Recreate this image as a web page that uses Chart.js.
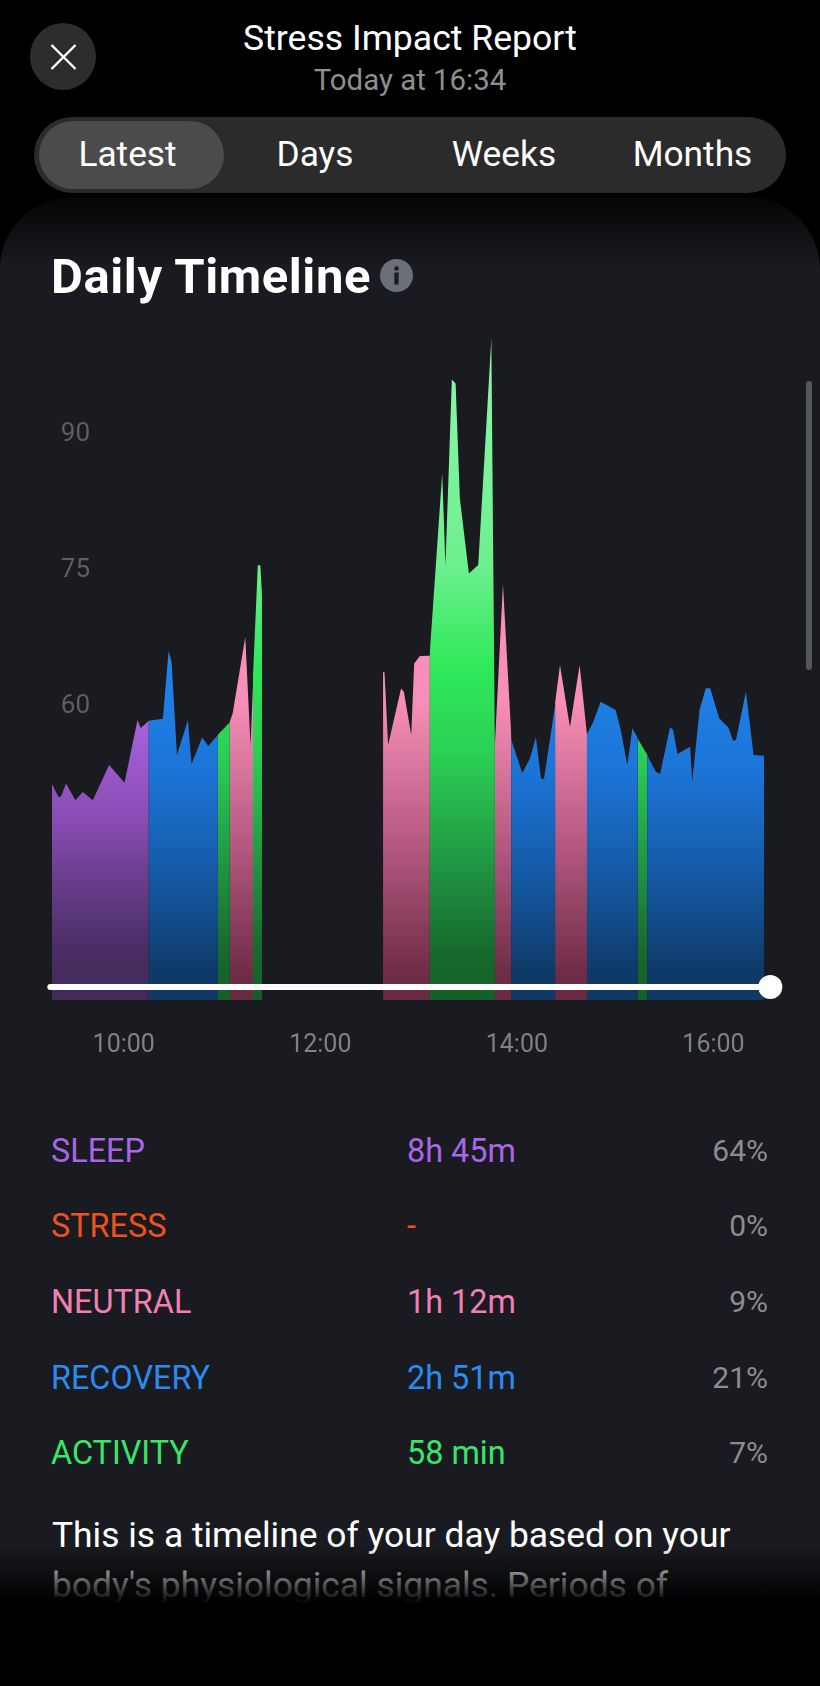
<!DOCTYPE html>
<html><head><meta charset="utf-8">
<script src="https://cdn.jsdelivr.net/npm/chart.js@4"></script>
<style>
html,body{margin:0;padding:0;background:#000;}
body{width:820px;height:1686px;position:relative;overflow:hidden;font-family:Roboto,sans-serif;color:#fff;}
.t{position:absolute;white-space:nowrap;line-height:1;}
.c{transform:translate(-50%,-50%);}
.l{transform:translateY(-50%);}
.r{transform:translate(-100%,-50%);}
#card{position:absolute;left:0;top:197px;width:820px;height:1489px;border-radius:72px 72px 0 0;background:linear-gradient(#050506 0,#191b20 70px);}
#close{position:absolute;left:30px;top:23px;width:66px;height:67px;border-radius:50%;background:#2d2d2d;}
#pill{position:absolute;left:34px;top:117px;width:752px;height:76px;border-radius:38px;background:#2b2b2b;}
#active{position:absolute;left:39px;top:121px;width:185px;height:68px;border-radius:34px;background:#4b4b4b;}
#info{position:absolute;left:380px;top:259px;width:33px;height:33px;border-radius:50%;background:#6b6f76;}
#scroll{position:absolute;left:806px;top:381px;width:6px;height:289px;border-radius:3px;background:#54575b;}
#fade{position:absolute;left:0;top:1545px;width:820px;height:141px;background:linear-gradient(rgba(0,0,0,0) 0,#000 59px);}
#cv{position:absolute;left:0;top:280px;}
</style></head><body>
<div id="card"></div>
<div id="close"><svg width="66" height="67"><path d="M21.5 22 L45.5 46 M45.5 22 L21.5 46" stroke="#fff" stroke-width="2.4" fill="none"/></svg></div>
<div class="t c" style="left:410px;top:39px;font-size:35.6px;">Stress Impact Report</div>
<div class="t c" style="left:410px;top:81px;font-size:29.4px;color:#8f8f8f;">Today at 16:34</div>
<div id="pill"></div><div id="active"></div>
<div class="t c" style="left:127.5px;top:155px;font-size:35.3px;">Latest</div>
<div class="t c" style="left:315px;top:155px;font-size:35.3px;">Days</div>
<div class="t c" style="left:504px;top:155px;font-size:35.3px;">Weeks</div>
<div class="t c" style="left:692.5px;top:155px;font-size:35.3px;">Months</div>
<div class="t l" style="left:51px;top:276px;font-size:49px;font-weight:700;letter-spacing:0.6px;">Daily Timeline</div>
<div id="info"><svg width="33" height="33"><circle cx="16.5" cy="9.5" r="2.3" fill="#1a1c21"/><rect x="14.4" y="13.5" width="4.2" height="12" fill="#1a1c21"/></svg></div>
<div id="scroll"></div>
<canvas id="cv" width="820" height="790" style="width:820px;height:790px;"></canvas>
<div id="table"></div>
<div class="t l" style="left:52px;top:1536px;font-size:35.4px;color:#fff;">This is a timeline of your day based on your</div>
<div class="t l" style="left:52px;top:1586px;font-size:35.4px;color:#fff;">body's physiological signals. Periods of</div>
<div id="fade"></div>
<script>
// minutes since midnight and level; null marks a gap between blocks
const sleepTimes  = [556.2,560.1,561.7,564.8,570.5,575.0,581.1,591.1,600.5,608.4,610.4,615.3];
const sleepLevels = [51.07,49.67,49.67,51.14,49.27,50.19,49.27,53.16,51.22,58.12,57.24,58.05];

const recoveryTimes  = [615.1,623.9,627.4,629.2,632.5,639.2,641.4,647.9,651.6,657.5, 700,
  836.5,843.3,848.0,851.6,854.7,856.5,863.5, 870,
  882.6,886.7,891.1,900.3,903.4,907.4,910.5,913.8, 916,
  919.5,924.8,927.4,933.5,935.4,938.0,945.8,947.0,951.5,955.3,958.0,963.5,969.0,972.0,973.7,979.8,984.5,991.0];
const recoveryLevels = [58.05,58.27,65.73,64.56,54.27,58.12,53.27,56.21,55.26,56.47, null,
  56.0,52.25,53.9,56.22,51.7,51.59,59.97, null,
  56.5,57.95,60.15,59.23,57.03,53.17,57.21,56.11, null,
  54.27,52.43,52.18,57.32,57.03,54.38,55.19,51.33,59.23,61.62,61.62,58.31,57.32,55.85,55.92,61.25,54.27,54.2];

const activityTimes  = [657.3,664.8, 670, 678.9,681.85,683.4,684.4, 720,
  786.7,794.4,796.4,800.3,802.6,805.2,810.7,816.4,824.4,826.6, 830,
  913.6,919.7];
const activityLevels = [56.47,57.87, null, 62.87,75.2,75.2,72.0, null,
  65.21,85.32,75.21,95.68,95.24,82.56,74.29,75.21,100.2,54.8, null,
  56.11,54.27];

const neutralTimes  = [664.6,666.5,674.2,677.4,679.1, 720,
  758.3,759.2,761.4,769.3,771.0,775.5,777.3,780.8,786.9, 800,
  826.4,831.5,836.7, 850,
  863.3,866.3,872.4,878.3,882.8];
const neutralLevels = [57.87,58.86,67.28,55.37,62.87, null,
  63.45,63.38,55.37,61.61,61.24,56.47,64.37,65.18,65.21, null,
  54.8,73.12,56.0, null,
  59.97,64.19,57.32,64.19,56.5];

const sliderTimes  = [555.2,994.7];
const sliderLevels = [28.69,28.69];

const xTickValues = [600,720,840,960];
const xTickLabels = ['10:00','12:00','14:00','16:00'];
const yTickValues = [60,75,90];

const rowNames  = ['SLEEP','STRESS','NEUTRAL','RECOVERY','ACTIVITY'];
const rowTimes  = ['8h 45m','-','1h 12m','2h 51m','58 min'];
const rowShares = ['64%','0%','9%','21%','7%'];
const rowColors = ['#a866e8','#f0521e','#f27fb5','#2b8cf0','#39e668'];
const rowTops   = [1151,1226,1302,1378,1453];

const table = document.getElementById('table');
rowNames.forEach((n,i)=>{
  table.insertAdjacentHTML('beforeend',
   `<div class="t l" style="left:51px;top:${rowTops[i]}px;font-size:32.4px;color:${rowColors[i]}">${n}</div>`+
   `<div class="t l" style="left:407px;top:${rowTops[i]}px;font-size:32.4px;color:${rowColors[i]}">${rowTimes[i]}</div>`+
   `<div class="t r" style="left:768px;top:${rowTops[i]}px;font-size:30px;color:#8b8d90">${rowShares[i]}</div>`);
});

function pts(xs,ys){return xs.map((x,i)=>({x:x,y:ys[i]}));}
function grad(stops){
  return function(ctx){
    const a=ctx.chart.chartArea; if(!a) return stops[0][1];
    const g=ctx.chart.ctx.createLinearGradient(0,a.top,0,a.bottom);
    stops.forEach(s=>g.addColorStop(s[0],s[1]));
    return g;
  };
}
function area(label,xs,ys,stops){
  return {label:label,data:pts(xs,ys),backgroundColor:grad(stops),fill:'start',
    borderWidth:0,pointRadius:0,tension:0,spanGaps:false,order:2};
}
new Chart(document.getElementById('cv'),{
  type:'line',
  data:{datasets:[
    {label:'Now',data:pts(sliderTimes,sliderLevels),borderColor:'#fff',borderWidth:6,borderCapStyle:'round',
     pointRadius:[0,12],pointBackgroundColor:'#fff',pointBorderWidth:0,fill:false,clip:false,order:0},
    area('Sleep',sleepTimes,sleepLevels,[[0.6,'#a962de'],[0.74,'#8a4db5'],[0.835,'#683c8a'],[0.93,'#4a2d63'],[1,'#42295a']]),
    area('Recovery',recoveryTimes,recoveryLevels,[[0.504,'#1f86ee'],[0.677,'#1c74d6'],[0.82,'#155aa6'],[0.96,'#0f3a68'],[1,'#103a62']]),
    area('Activity',activityTimes,activityLevels,[[0.064,'#92f4ab'],[0.38,'#6df08e'],[0.535,'#2de858'],[0.65,'#2bd055'],[0.84,'#1e8a3e'],[0.93,'#176a2e'],[1,'#146028']]),
    area('Neutral',neutralTimes,neutralLevels,[[0.574,'#f88fb8'],[0.773,'#b75a82'],[0.965,'#6e2c46'],[1,'#672a42']])
  ]},
  options:{
    responsive:false,animation:false,
    layout:{padding:{left:41.8,right:41,top:15,bottom:13}},
    plugins:{legend:{display:false},tooltip:{enabled:false}},
    scales:{
      x:{type:'linear',min:550,max:1000,
        grid:{display:false,drawTicks:false},border:{display:false},
        afterBuildTicks:s=>{s.ticks=xTickValues.map(v=>({value:v}));},
        afterFit:s=>{s.height=57;s.paddingLeft=0;s.paddingRight=0;},
        ticks:{padding:31,maxRotation:0,autoSkip:false,color:'#7e8185',font:{family:'Roboto',size:25},
          callback:v=>xTickLabels[xTickValues.indexOf(v)]}},
      y:{type:'linear',min:27.25,max:105,
        grid:{display:false,drawTicks:false},border:{display:false},
        afterBuildTicks:s=>{s.ticks=yTickValues.map(v=>({value:v}));},
        afterFit:s=>{s.width=0;s.paddingTop=0;s.paddingBottom=0;},
        ticks:{mirror:true,padding:19,labelOffset:3,color:'#5c5f63',font:{family:'Roboto',size:26}}}
    }
  }
});
</script>
</body></html>
